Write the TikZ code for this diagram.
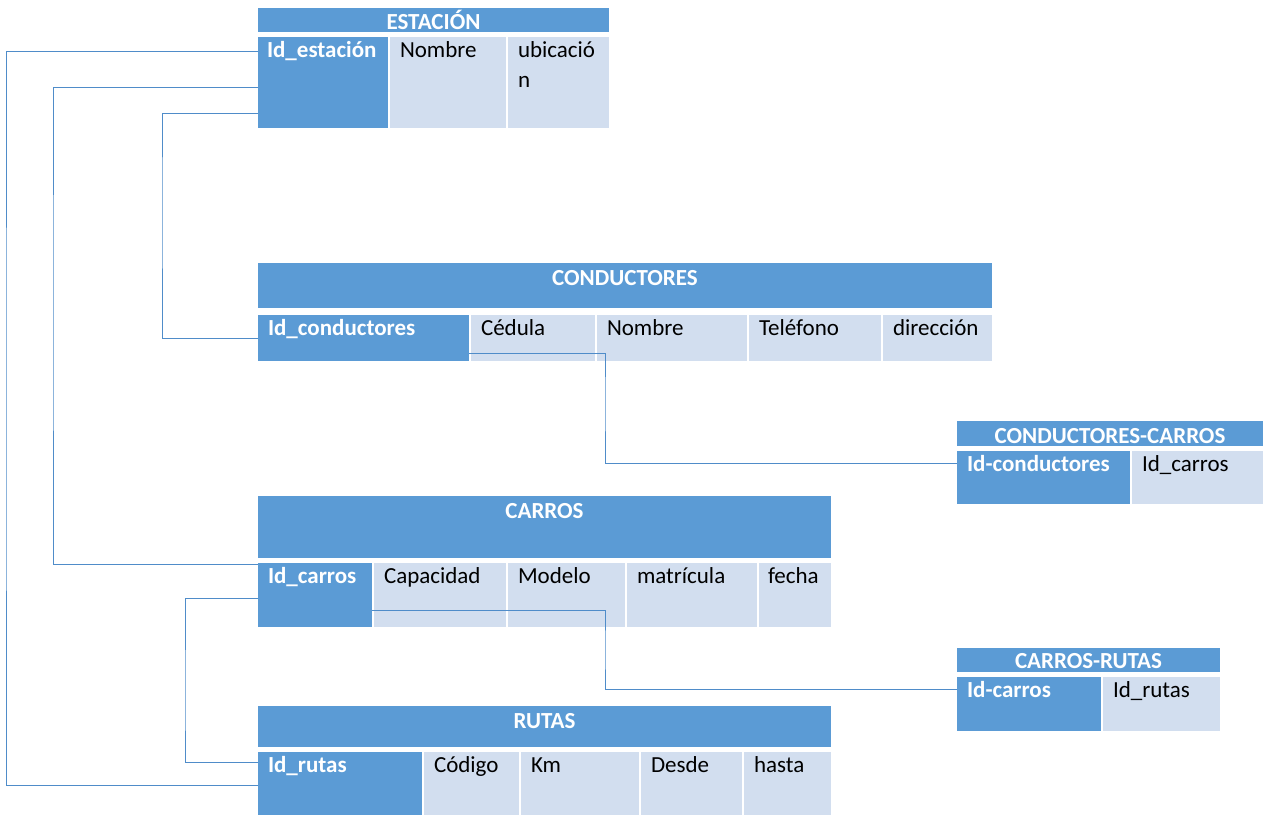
\documentclass[tikz,border=0pt]{standalone}
\usepackage{fontspec}
\setmainfont{Carlito}
\definecolor{keyblue}{HTML}{5B9BD5}
\definecolor{attblue}{HTML}{D2DEEF}
\definecolor{lineblue}{HTML}{4F8CC9}
\tikzset{
    hdr/.style={fill=keyblue, text=white, font=\fontsize{23}{30}\selectfont\bfseries, anchor=north west, inner sep=0pt, outer sep=0pt, align=center},
    keycell/.style={fill=keyblue, text=white, font=\fontsize{23}{30}\selectfont\bfseries, anchor=north west, inner xsep=10pt, inner ysep=0pt, outer sep=0pt, align=left, text height=20pt},
    attcell/.style={fill=attblue, text=black, font=\fontsize{23}{30}\selectfont, anchor=north west, inner xsep=10pt, inner ysep=0pt, outer sep=0pt, align=left, text height=20pt},
    link/.style={draw=lineblue, line width=0.9pt}
}
\begin{document}
\begin{tikzpicture}[x=1pt, y=-1pt]
    \useasboundingbox (0,0) rectangle (1270,819);
    \node[hdr, text width=351pt, text height=21pt, text depth=3pt] (estHead) at (258,8) {ESTACIÓN};
    \node[keycell, inner xsep=9pt, text width=112pt, text depth=71pt] (estId) at (258,37) {Id\_estación};
    \node[attcell, text width=96pt, text depth=71pt] (estNombre) at (390,37) {Nombre};
    \node[attcell, text width=81pt, text depth=71pt] (estUbic) at (508,37) {ubicació\\n};
    \node[hdr, text width=734pt, text height=22pt, text depth=23pt] (conHead) at (258,263) {CONDUCTORES};
    \node[keycell, text width=191pt, text depth=26pt] (conId) at (258,315) {Id\_conductores};
    \node[attcell, text width=104pt, text depth=26pt] (conCedula) at (471,315) {Cédula};
    \node[attcell, text width=130pt, text depth=26pt] (conNombre) at (597,315) {Nombre};
    \node[attcell, text width=112pt, text depth=26pt] (conTel) at (749,315) {Teléfono};
    \node[attcell, text width=89pt, text depth=26pt] (conDir) at (883,315) {dirección};
    \node[hdr, text width=306pt, text height=22pt, text depth=3pt] (ccHead) at (957,421) {CONDUCTORES-CARROS};
    \node[keycell, text width=153pt, text depth=33pt] (ccCond) at (957,451) {Id-conductores};
    \node[attcell, text width=111pt, text depth=33pt] (ccCarros) at (1132,451) {Id\_carros};
    \node[hdr, text width=573pt, text height=22pt, text depth=40pt] (carHead) at (258,496) {CARROS};
    \node[keycell, text width=94pt, text depth=44pt] (carId) at (258,563) {Id\_carros};
    \node[attcell, text width=112pt, text depth=44pt] (carCap) at (374,563) {Capacidad};
    \node[attcell, text width=97pt, text depth=44pt] (carModelo) at (508,563) {Modelo};
    \node[attcell, text width=110pt, text depth=44pt] (carMatr) at (627,563) {matrícula};
    \node[attcell, inner xsep=9pt, text width=54pt, text depth=44pt] (carFecha) at (759,563) {fecha};
    \node[hdr, text width=263pt, text height=20pt, text depth=4pt] (crHead) at (957,648) {CARROS-RUTAS};
    \node[keycell, text width=124pt, text depth=34pt] (crCarros) at (957,677) {Id-carros};
    \node[attcell, text width=97pt, text depth=34pt] (crRutas) at (1103,677) {Id\_rutas};
    \node[hdr, text width=573pt, text height=22pt, text depth=19pt] (rutHead) at (258,706) {RUTAS};
    \node[keycell, text width=144pt, text depth=43pt] (rutId) at (258,752) {Id\_rutas};
    \node[attcell, text width=75pt, text depth=43pt] (rutCodigo) at (424,752) {Código};
    \node[attcell, text width=98pt, text depth=43pt] (rutKm) at (521,752) {Km};
    \node[attcell, text width=81pt, text depth=43pt] (rutDesde) at (641,752) {Desde};
    \node[attcell, text width=67pt, text depth=43pt] (rutHasta) at (744,752) {hasta};
    \draw[link] ([yshift=-14pt]estId.north west) -| (6,400) |- ([yshift=-33pt]rutId.north west);
    \draw[link] ([yshift=-50pt]estId.north west) -| (53,300) |- ([yshift=-1pt]carId.north west);
    \draw[link] ([yshift=-76pt]estId.north west) -| (162,200) |- ([yshift=-23pt]conId.north west);
    \draw[link] ([yshift=-38pt]conId.north east) -| (605,400) |- ([yshift=-12pt]ccCond.north west);
    \draw[link] ([yshift=-47pt]carId.north east) -| (605,650) |- ([yshift=-12pt]crCarros.north west);
    \draw[link] ([yshift=-35pt]carId.north west) -| (185,700) |- ([yshift=-10pt]rutId.north west);
\end{tikzpicture}
\end{document}
